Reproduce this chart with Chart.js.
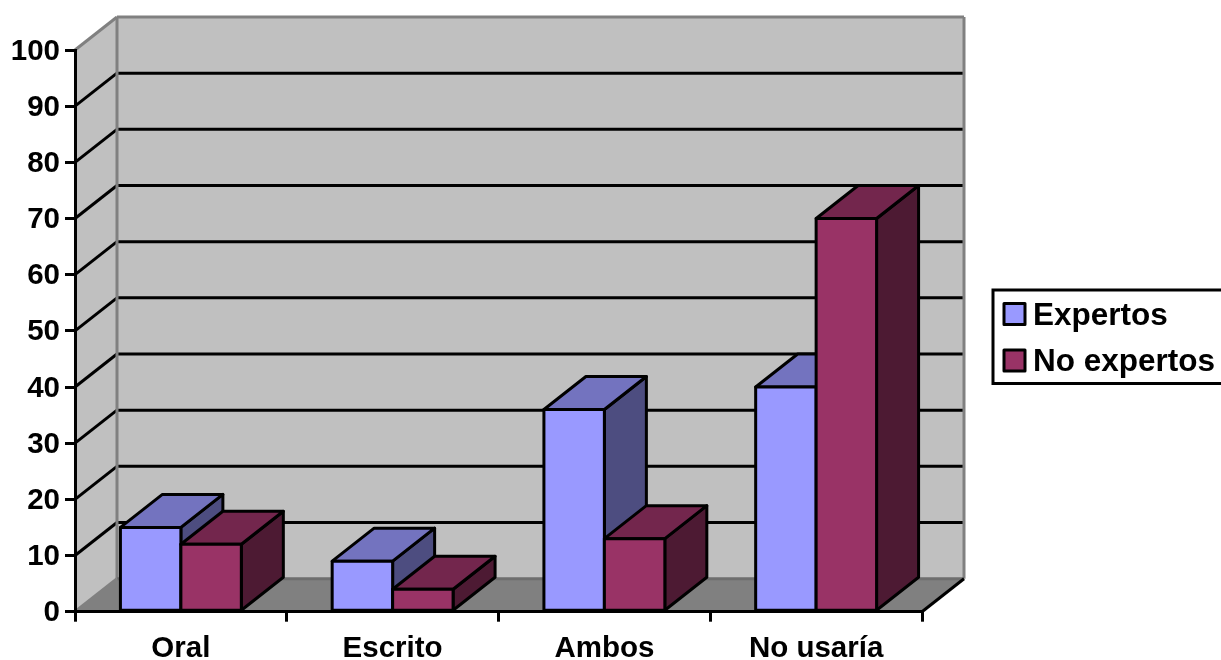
<!DOCTYPE html>
<html>
<head>
<meta charset="utf-8">
<title>Expertos y no expertos</title>
<script src="https://cdn.jsdelivr.net/npm/chart.js@4"></script>
<style>
    html, body { margin: 0; padding: 0; background: #fff; overflow: hidden; }
    canvas { display: block; }
</style>
</head>
<body>
<canvas id="barChart" width="1221" height="660"></canvas>
<script>
// --- Data ---
const categories = ['Oral', 'Escrito', 'Ambos', 'No usaría'];
const expertos = [15, 9, 36, 40];
const noExpertos = [12, 4, 13, 70];
const yTicks = [0, 10, 20, 30, 40, 50, 60, 70, 80, 90, 100];

// --- Look ---
const FONT = '"Liberation Sans", Arial, sans-serif';
const DEPTH_X = 42;  // how far the box recedes to the right
const DEPTH_Y = -33; // ...and upwards
const LINE = 3;
const WALL = '#c0c0c0';
const WALL_EDGE = '#808080';
const FLOOR = '#808080';
const shades = {
    Expertos: { front: '#9999ff', top: '#7373bf', side: '#4d4d80' },
    'No expertos': { front: '#993366', top: '#73264d', side: '#4d1a33' }
};

function poly(ctx, pts, fill, stroke, width) {
    ctx.beginPath();
    pts.forEach((p, i) => (i ? ctx.lineTo(p[0], p[1]) : ctx.moveTo(p[0], p[1])));
    ctx.closePath();
    if (fill) {
        ctx.fillStyle = fill;
        ctx.fill();
    }
    if (stroke) {
        ctx.strokeStyle = stroke;
        ctx.lineWidth = width;
        ctx.lineJoin = 'round';
        ctx.stroke();
    }
}

function segment(ctx, x1, y1, x2, y2, color, width) {
    ctx.beginPath();
    ctx.moveTo(x1, y1);
    ctx.lineTo(x2, y2);
    ctx.strokeStyle = color;
    ctx.lineWidth = width;
    ctx.stroke();
}

// Walls, floor and the gridlines that run across them
const roomPlugin = {
    id: 'room',
    beforeDraw(chart) {
        const { ctx, chartArea: a, scales } = chart;
        const dx = DEPTH_X, dy = DEPTH_Y;
        ctx.save();
        poly(ctx, [[a.left, a.top], [a.left + dx, a.top + dy], [a.left + dx, a.bottom + dy], [a.left, a.bottom]], WALL);
        poly(ctx, [[a.left + dx, a.top + dy], [a.right + dx, a.top + dy], [a.right + dx, a.bottom + dy], [a.left + dx, a.bottom + dy]], WALL);
        poly(ctx, [[a.left, a.bottom], [a.right, a.bottom], [a.right + dx, a.bottom + dy], [a.left + dx, a.bottom + dy]], FLOOR);

        yTicks.slice(1, -1).forEach(v => {
            const y = scales.y.getPixelForValue(v);
            segment(ctx, a.left, y, a.left + dx, y + dy, '#000', LINE);
            segment(ctx, a.left + dx, y + dy, a.right + dx, y + dy, '#000', LINE);
        });

        // grey outline of the back wall and the top of the side wall
        segment(ctx, a.left, a.top, a.left + dx, a.top + dy, WALL_EDGE, LINE);
        segment(ctx, a.left + dx, a.top + dy, a.right + dx, a.top + dy, WALL_EDGE, LINE);
        segment(ctx, a.left + dx, a.top + dy, a.left + dx, a.bottom + dy, WALL_EDGE, LINE);
        segment(ctx, a.right + dx, a.top + dy, a.right + dx, a.bottom + dy, WALL_EDGE, LINE);
        segment(ctx, a.left + dx, a.bottom + dy, a.right + dx, a.bottom + dy, '#6e6e6e', LINE);
        segment(ctx, a.left, a.bottom, a.left + dx, a.bottom + dy, WALL_EDGE, LINE);
        segment(ctx, a.right, a.bottom, a.right + dx, a.bottom + dy, '#000', LINE);
        ctx.restore();
    }
};

// Chart.js paints datasets last to first, but here the left series has to
// sit behind the right one, so the whole pass is done by hand in index order.
const boxPlugin = {
    id: 'boxes',
    beforeDatasetsDraw(chart) {
        const { ctx } = chart;
        const dx = DEPTH_X, dy = DEPTH_Y;
        chart.data.datasets.forEach((ds, index) => {
            const meta = chart.getDatasetMeta(index);
            const c = shades[ds.label];
            ctx.save();
            meta.data.forEach(bar => {
                const { x, y, base, width } = bar.getProps(['x', 'y', 'base', 'width']);
                const l = x - width / 2, r = x + width / 2;
                poly(ctx, [[r, y], [r + dx, y + dy], [r + dx, base + dy], [r, base]], c.side, '#000', LINE);
                poly(ctx, [[l, y], [l + dx, y + dy], [r + dx, y + dy], [r, y]], c.top, '#000', LINE);
            });
            meta.controller.draw();
            meta.data.forEach(bar => {
                const { x, y, base, width } = bar.getProps(['x', 'y', 'base', 'width']);
                const l = x - width / 2, r = x + width / 2;
                poly(ctx, [[l, y], [r, y], [r, base], [l, base]], null, '#000', LINE);
            });
            ctx.restore();
        });
        return false;
    }
};

// Boxed legend to the right of the plot
const legendPlugin = {
    id: 'boxLegend',
    afterDraw(chart) {
        const { ctx } = chart;
        const rows = [
            { swatchTop: 303.5, baseline: 325 },
            { swatchTop: 350, baseline: 371 }
        ];
        ctx.save();
        ctx.strokeStyle = '#000';
        ctx.lineWidth = LINE;
        ctx.strokeRect(993, 290, 240, 93.5);
        ctx.font = 'bold 31.5px ' + FONT;
        ctx.textAlign = 'left';
        ctx.textBaseline = 'alphabetic';
        chart.data.datasets.forEach((ds, i) => {
            poly(ctx, [
                [1004, rows[i].swatchTop], [1025, rows[i].swatchTop],
                [1025, rows[i].swatchTop + 21], [1004, rows[i].swatchTop + 21]
            ], ds.backgroundColor, '#000', LINE);
            ctx.fillStyle = '#000';
            ctx.fillText(ds.label, 1033, rows[i].baseline);
        });
        ctx.restore();
    }
};

new Chart(document.getElementById('barChart'), {
    type: 'bar',
    data: {
        labels: categories,
        datasets: [
            { label: 'Expertos', data: expertos, backgroundColor: shades.Expertos.front },
            { label: 'No expertos', data: noExpertos, backgroundColor: shades['No expertos'].front }
        ]
    },
    options: {
        responsive: false,
        animation: false,
        clip: false,
        categoryPercentage: 0.571,
        barPercentage: 1,
        borderWidth: 0,
        layout: { padding: { left: 0, top: 50, right: 299, bottom: 0 } },
        plugins: { legend: { display: false }, tooltip: { enabled: false } },
        scales: {
            x: {
                afterFit(scale) { scale.height = 48.3; },
                grid: { drawOnChartArea: false, color: '#000', lineWidth: LINE, tickLength: 10 },
                border: { color: '#000', width: LINE },
                ticks: {
                    color: '#000',
                    font: { family: FONT, size: 29.5, weight: 'bold' },
                    padding: 9,
                    maxRotation: 0
                }
            },
            y: {
                min: 0,
                max: 100,
                afterFit(scale) { scale.width = 75; },
                afterBuildTicks(scale) { scale.ticks = yTicks.map(value => ({ value })); },
                grid: { drawOnChartArea: false, color: '#000', lineWidth: LINE, tickLength: 10 },
                border: { color: '#000', width: LINE },
                ticks: {
                    color: '#000',
                    font: { family: FONT, size: 29.5, weight: 'bold' },
                    padding: 5,
                    labelOffset: 1.5
                }
            }
        }
    },
    plugins: [roomPlugin, boxPlugin, legendPlugin]
});
</script>
</body>
</html>
